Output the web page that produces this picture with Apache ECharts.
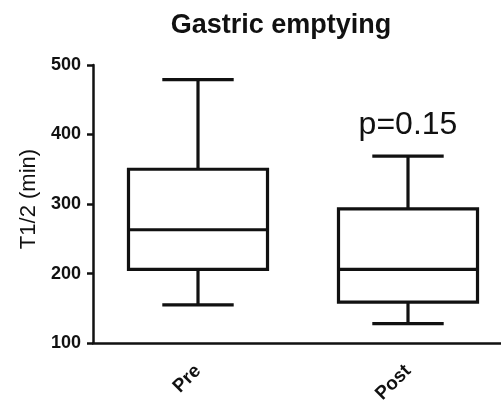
<!DOCTYPE html>
<html><head><meta charset="utf-8">
<script src="https://cdn.jsdelivr.net/npm/echarts@6/dist/echarts.min.js"></script>
<style>html,body{margin:0;padding:0;background:#fff;overflow:hidden;width:501px;height:406px}#c{width:513px;height:406px}</style>
</head><body><div id="c"></div>
<script>
var categories = ['Pre', 'Post'];
var minVals = [155, 128];
var q1Vals = [206, 159];
var medianVals = [263, 206];
var q3Vals = [350, 293];
var maxVals = [479, 369];
var yTicks = [100, 200, 300, 400, 500];
var pText = 'p=0.15';

var data = categories.map(function (c, i) {
  return [i, minVals[i], q1Vals[i], medianVals[i], q3Vals[i], maxVals[i]];
});

var chart = echarts.init(document.getElementById('c'));
var font = '"Liberation Sans", Arial, sans-serif';
chart.setOption({
  animation: false,
  backgroundColor: '#fff',
  title: {
    text: 'Gastric emptying', left: 276, top: 7, textAlign: 'center',
    textStyle: { fontFamily: font, fontSize: 27, fontWeight: 'bold', color: '#111' }
  },
  grid: { left: 93, top: 65, bottom: 61, right: 0 },
  xAxis: {
    type: 'category', data: categories, boundaryGap: true,
    axisLine: { lineStyle: { color: '#111', width: 2.5 } },
    axisTick: { alignWithLabel: true, length: 7, lineStyle: { color: '#111', width: 2.5 } },
    axisLabel: { rotate: 45, margin: 25, fontFamily: font, fontSize: 19, fontWeight: 'bold', color: '#111' }
  },
  yAxis: {
    type: 'value', min: yTicks[0], max: yTicks[yTicks.length - 1], interval: 100,
    name: 'T1/2 (min)', nameLocation: 'middle', nameGap: 50,
    nameTextStyle: { fontFamily: font, fontSize: 22, color: '#111', padding: [0, 0, 0, 10] },
    splitLine: { show: false },
    axisLine: { show: true, lineStyle: { color: '#111', width: 2.5 } },
    axisTick: { show: true, length: 6, lineStyle: { color: '#111', width: 2.5 } },
    axisLabel: { margin: 12, fontFamily: font, fontSize: 18, fontWeight: 'bold', color: '#111' }
  },
  series: [{
    type: 'custom',
    data: data,
    renderItem: function (params, api) {
      var x = api.value(0);
      var band = api.size([1, 0])[0];
      var bw = band * 0.662 / 2, cw = band * 0.34 / 2;
      var pMin = api.coord([x, api.value(1)]);
      var pQ1 = api.coord([x, api.value(2)]);
      var pMed = api.coord([x, api.value(3)]);
      var pQ3 = api.coord([x, api.value(4)]);
      var pMax = api.coord([x, api.value(5)]);
      var cx = pMed[0];
      var st = { stroke: '#111', lineWidth: 3.2, fill: null };
      function line(x1, y1, x2, y2) {
        return { type: 'line', shape: { x1: x1, y1: y1, x2: x2, y2: y2 }, style: st };
      }
      var children = [
        { type: 'rect', shape: { x: cx - bw, y: pQ3[1], width: 2 * bw, height: pQ1[1] - pQ3[1] },
          style: { stroke: '#111', lineWidth: 3.2, fill: '#fff' } },
        line(cx - bw, pMed[1], cx + bw, pMed[1]),
        line(cx, pQ3[1], cx, pMax[1]),
        line(cx, pQ1[1], cx, pMin[1]),
        line(cx - cw, pMax[1], cx + cw, pMax[1]),
        line(cx - cw, pMin[1], cx + cw, pMin[1])
      ];
      if (params.dataIndex === 1) {
        children.push({ type: 'text', style: { text: pText, x: cx, y: pMax[1] - 31, align: 'center', verticalAlign: 'middle',
          font: '32px ' + font, fill: '#111' } });
      }
      return { type: 'group', children: children };
    }
  }]
});
</script></body></html>
